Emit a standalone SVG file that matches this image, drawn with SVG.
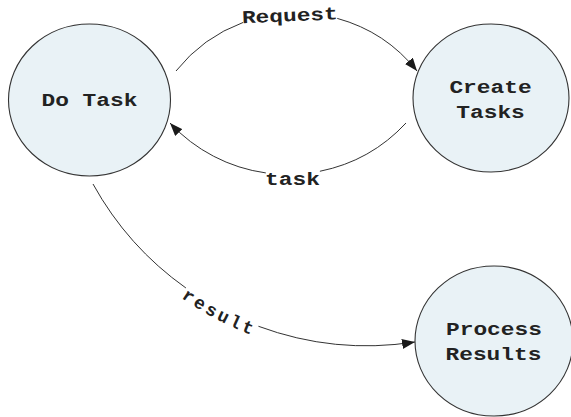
<svg xmlns="http://www.w3.org/2000/svg" width="571" height="417" viewBox="0 0 571 417">
  <style>
    .node { fill: #e9f2f6; stroke: #333; stroke-width: 1.1; }
    .label { font-family: "Liberation Mono", "DejaVu Sans Mono", monospace; font-weight: bold; font-size: 18px; fill: #222; }
    .edge { fill: none; stroke: #333; stroke-width: 1; marker-end: url(#arrow); }
  </style>
  <defs>
    <marker id="arrow" markerUnits="userSpaceOnUse" viewBox="0 0 13 10" refX="13" refY="5" markerWidth="13" markerHeight="10" orient="auto">
      <path d="M0,0 L13,5 L0,10 z" fill="#1a1a1a"/>
    </marker>
    <!-- baseline for the curved "result" label, just outside its connector -->
    <path id="resultLabelPath" d="M83.5,189.2 A324,324 0 0 0 416.7,352.6"/>
  </defs>

  <g id="connectors">
    <g id="edge-request">
      <path class="edge" d="M176,71 A154,154 0 0 1 417,71" stroke-dasharray="83.9 95.6 200"/>
      <text class="label" transform="translate(290,21.3) rotate(-2.4)" x="-47.9" y="0" textLength="95.9" lengthAdjust="spacingAndGlyphs">Request</text>
    </g>
    <g id="edge-task">
      <path class="edge" d="M406,123 A161,161 0 0 1 170,123" stroke-dasharray="100.3 54.3 200"/>
      <text class="label" x="265.1" y="185" textLength="54.8" lengthAdjust="spacingAndGlyphs">task</text>
    </g>
    <g id="edge-result">
      <path class="edge" d="M93,184 A313,313 0 0 0 415,342" stroke-dasharray="140.6 82.2 400"/>
      <text class="label" letter-spacing="2.9"><textPath href="#resultLabelPath" startOffset="147">result</textPath></text>
    </g>
  </g>

  <g id="node-do-task">
    <ellipse class="node" cx="89.5" cy="100" rx="81" ry="76"/>
    <text class="label" x="41.5" y="106" textLength="95.9" lengthAdjust="spacingAndGlyphs">Do Task</text>
  </g>

  <g id="node-create-tasks">
    <ellipse class="node" cx="491" cy="98" rx="78" ry="74"/>
    <text class="label" x="449.4" y="93" textLength="82.2" lengthAdjust="spacingAndGlyphs">Create</text>
    <text class="label" x="456.3" y="118" textLength="68.5" lengthAdjust="spacingAndGlyphs">Tasks</text>
  </g>

  <g id="node-process-results">
    <ellipse class="node" cx="494" cy="341" rx="79" ry="75"/>
    <text class="label" x="446" y="335" textLength="95.9" lengthAdjust="spacingAndGlyphs">Process</text>
    <text class="label" x="445.5" y="360" textLength="95.9" lengthAdjust="spacingAndGlyphs">Results</text>
  </g>
</svg>
